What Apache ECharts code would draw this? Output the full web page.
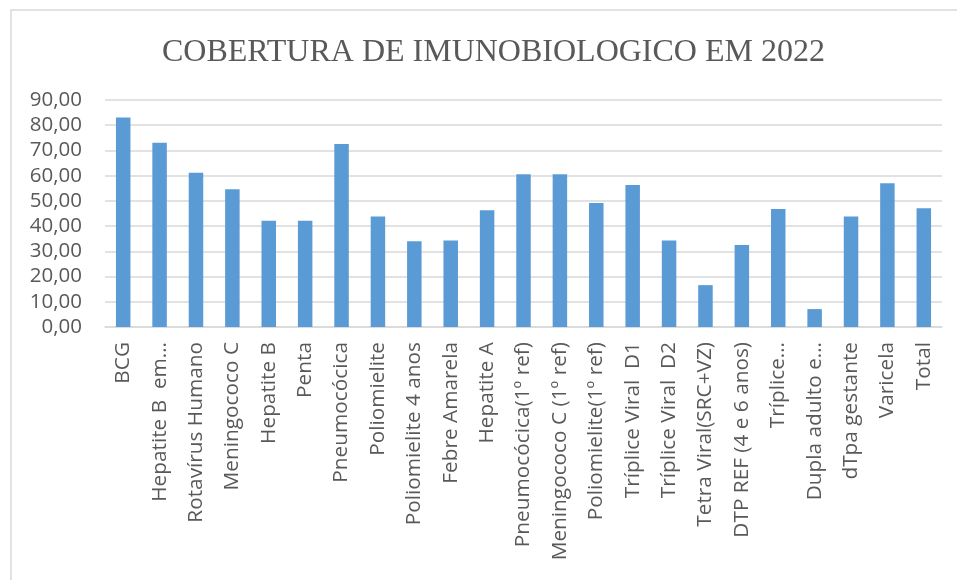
<!DOCTYPE html>
<html>
<head>
<meta charset="utf-8">
<script src="https://cdn.jsdelivr.net/npm/echarts@6/dist/echarts.min.js"></script>
<style>
html,body{margin:0;padding:0;background:#fff;}
#chart{width:957px;height:580px;}
</style>
</head>
<body>
<div id="chart"></div>
<script>
var categories = [
  "BCG",
  "Hepatite B  em…",
  "Rotavírus Humano",
  "Meningococo C",
  "Hepatite B",
  "Penta",
  "Pneumocócica",
  "Poliomielite",
  "Poliomielite 4 anos",
  "Febre Amarela",
  "Hepatite A",
  "Pneumocócica(1º ref)",
  "Meningococo C (1º ref)",
  "Poliomielite(1º ref)",
  "Tríplice Viral  D1",
  "Tríplice Viral  D2",
  "Tetra Viral(SRC+VZ)",
  "DTP REF (4 e 6 anos)",
  "Tríplice…",
  "Dupla adulto e…",
  "dTpa gestante",
  "Varicela",
  "Total"
];
var coverage = [83.1, 73.1, 61.2, 54.6, 42.1, 42.1, 72.6, 43.8, 34.0, 34.3, 46.3,
  60.6, 60.6, 49.2, 56.3, 34.3, 16.6, 32.5, 46.8, 7.1, 43.8, 57.0, 47.1];
var titleText = "COBERTURA DE IMUNOBIOLOGICO EM 2022";

var chart = echarts.init(document.getElementById('chart'), null, {renderer: 'canvas'});
var textColor = '#595959';
var lineColor = '#d9d9d9';
chart.setOption({
  animation: false,
  backgroundColor: '#ffffff',
  graphic: [{
    type: 'rect',
    shape: {x: 11, y: 10, width: 960, height: 590},
    style: {fill: 'none', stroke: lineColor, lineWidth: 1.5},
    silent: true
  }],
  title: {
    text: titleText,
    left: 157,
    top: 32,
    textStyle: {
      fontFamily: '"Liberation Serif", "Times New Roman", serif',
      fontSize: 32,
      fontWeight: 'normal',
      color: textColor
    }
  },
  grid: {left: 105, right: 15, top: 100, bottom: 253, containLabel: false},
  xAxis: {
    type: 'category',
    data: categories,
    axisLine: {show: true, lineStyle: {color: lineColor, width: 1.5}},
    axisTick: {show: false},
    axisLabel: {
      interval: 0,
      rotate: 90,
      margin: 15,
      fontFamily: '"Open Sans", sans-serif',
      fontSize: 20.8,
      color: textColor
    }
  },
  yAxis: {
    type: 'value',
    min: 0,
    max: 90,
    interval: 10,
    axisLine: {show: false},
    axisTick: {show: false},
    splitLine: {lineStyle: {color: lineColor, width: 1.5}},
    axisLabel: {
      margin: 23,
      fontFamily: '"Open Sans", sans-serif',
      fontSize: 20.5,
      color: textColor,
      formatter: function (v) { return v.toFixed(2).replace('.', ','); }
    }
  },
  series: [{
    type: 'bar',
    data: coverage,
    barWidth: 14.5,
    itemStyle: {color: '#5b9bd5'}
  }]
});
</script>
</body>
</html>
